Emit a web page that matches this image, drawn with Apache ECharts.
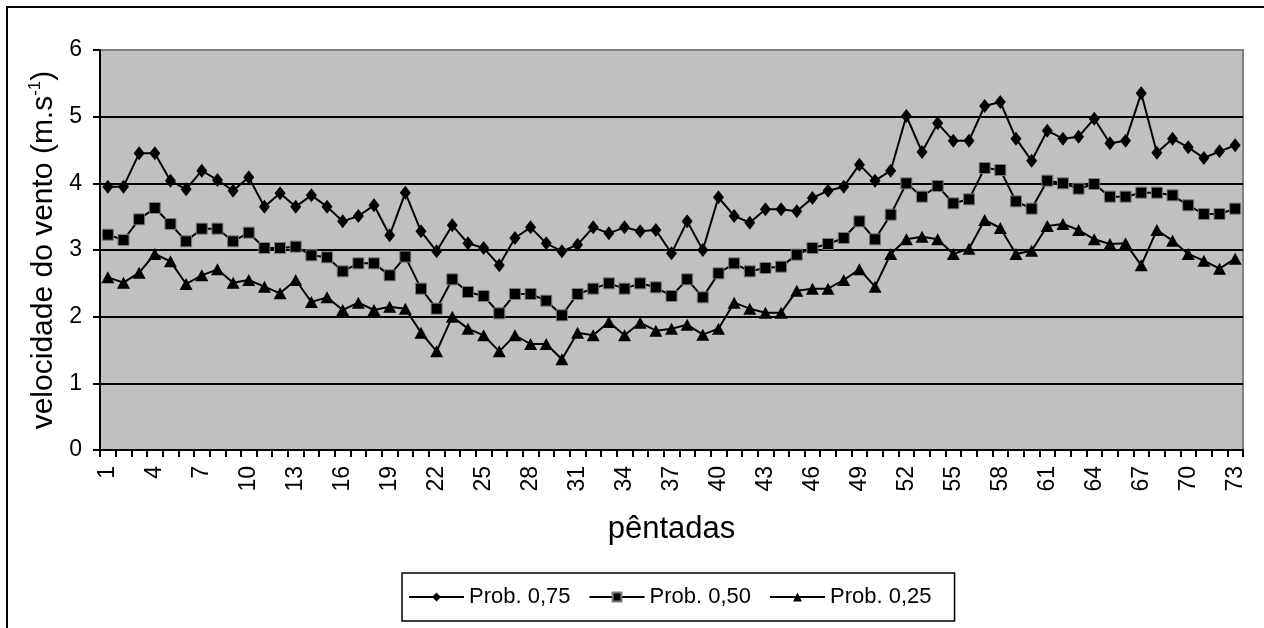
<!DOCTYPE html>
<html>
<head>
<meta charset="utf-8">
<script src="https://cdn.jsdelivr.net/npm/echarts@6/dist/echarts.min.js"></script>
<style>
html,body{margin:0;padding:0;background:#fff;}
#chart{width:1264px;height:628px;}
</style>
</head>
<body>
<div id="chart"></div>
<script>
const categories = [];
for (let i = 1; i <= 73; i++) categories.push(String(i));

const seriesNames = ['Prob. 0,75', 'Prob. 0,50', 'Prob. 0,25'];

const prob75 = [3.95,3.95,4.45,4.45,4.04,3.91,4.19,4.05,3.89,4.09,
  3.65,3.85,3.65,3.82,3.65,3.43,3.51,3.67,3.22,3.86,
  3.28,2.98,3.37,3.10,3.03,2.77,3.18,3.34,3.10,2.98,
  3.08,3.34,3.25,3.34,3.28,3.30,2.95,3.43,3.00,3.79,
  3.51,3.41,3.61,3.61,3.58,3.78,3.89,3.95,4.28,4.04,
  4.19,5.01,4.47,4.90,4.64,4.64,5.16,5.22,4.67,4.34,
  4.79,4.67,4.70,4.97,4.60,4.64,5.35,4.46,4.67,4.54,
  4.38,4.48,4.57];

const prob50 = [3.23,3.15,3.46,3.63,3.39,3.13,3.32,3.32,3.13,3.26,
  3.03,3.03,3.05,2.92,2.89,2.68,2.80,2.80,2.62,2.90,
  2.42,2.12,2.56,2.37,2.31,2.05,2.34,2.34,2.24,2.02,
  2.34,2.42,2.50,2.42,2.50,2.44,2.31,2.56,2.29,2.65,
  2.80,2.68,2.73,2.75,2.93,3.03,3.09,3.18,3.43,3.16,
  3.53,4.00,3.80,3.96,3.70,3.76,4.23,4.20,3.73,3.62,
  4.04,4.00,3.92,3.99,3.80,3.80,3.86,3.86,3.82,3.67,
  3.54,3.54,3.62];

const prob25 = [2.59,2.51,2.66,2.94,2.83,2.49,2.62,2.71,2.51,2.55,
  2.45,2.35,2.55,2.22,2.29,2.10,2.21,2.10,2.15,2.12,
  1.76,1.48,2.00,1.82,1.72,1.48,1.72,1.59,1.59,1.36,
  1.76,1.72,1.92,1.72,1.91,1.79,1.82,1.88,1.73,1.82,
  2.21,2.12,2.06,2.06,2.39,2.42,2.42,2.55,2.71,2.45,
  2.94,3.16,3.20,3.16,2.94,3.02,3.45,3.33,2.94,2.99,
  3.36,3.39,3.30,3.16,3.09,3.10,2.77,3.30,3.14,2.94,
  2.84,2.72,2.87];

const FONT = '"Liberation Sans", Arial, sans-serif';

const chart = echarts.init(document.getElementById('chart'), null, {renderer: 'canvas'});

function mkSeries(name, data, symbol, size, extraItem) {
  return {
    name: name,
    type: 'line',
    data: data,
    symbol: symbol,
    symbolSize: size,
    showAllSymbol: true,
    animation: false,
    lineStyle: {color: '#000', width: 2},
    itemStyle: Object.assign({color: '#000'}, extraItem || {}),
    emphasis: {disabled: true}
  };
}

chart.setOption({
  animation: false,
  backgroundColor: '#fff',
  textStyle: {fontFamily: FONT, color: '#000'},
  graphic: [
    {type: 'line', shape: {x1: 6, y1: 7, x2: 1264, y2: 7}, style: {stroke: '#000', lineWidth: 2}, silent: true},
    {type: 'line', shape: {x1: 7, y1: 6, x2: 7, y2: 628}, style: {stroke: '#000', lineWidth: 2}, silent: true}
  ],
  grid: {
    left: 100, right: 21, top: 50, bottom: 178,
    show: true,
    backgroundColor: '#c0c0c0',
    borderColor: '#808080',
    borderWidth: 2
  },
  legend: {
    data: seriesNames,
    left: 402, top: 573,
    orient: 'horizontal',
    padding: [13, 23, 13, 6],
    itemGap: 18,
    itemWidth: 55,
    itemHeight: 11,
    borderColor: '#000',
    borderWidth: 1.5,
    backgroundColor: '#fff',
    textStyle: {fontFamily: FONT, fontSize: 22, color: '#000'},
    selectedMode: false
  },
  xAxis: {
    type: 'category',
    data: categories,
    boundaryGap: true,
    name: 'pêntadas',
    nameLocation: 'middle',
    nameGap: 64,
    nameTextStyle: {fontFamily: FONT, fontSize: 31, color: '#000'},
    axisLine: {show: true, lineStyle: {color: '#000', width: 2}},
    axisTick: {show: true, interval: 0, length: 7, inside: false, lineStyle: {color: '#000', width: 2}},
    axisLabel: {interval: 2, rotate: 90, fontSize: 23, margin: 16, color: '#000', fontFamily: FONT},
    splitLine: {show: false}
  },
  yAxis: {
    type: 'value',
    min: 0, max: 6, interval: 1,
    name: '{n|velocidade do vento (m.s}{s|-1}{n|)}',
    nameLocation: 'middle',
    nameRotate: 90,
    nameGap: 40,
    nameTextStyle: {
      fontFamily: FONT, fontSize: 30, color: '#000',
      rich: {
        n: {fontFamily: FONT, fontSize: 30, color: '#000'},
        s: {fontFamily: FONT, fontSize: 17, color: '#000', padding: [0, 0, 16, 0]}
      }
    },
    axisLine: {show: true, lineStyle: {color: '#000', width: 2}},
    axisTick: {show: true, length: 7, inside: false, lineStyle: {color: '#000', width: 2}},
    axisLabel: {fontSize: 23, margin: 18, color: '#000', fontFamily: FONT},
    splitLine: {show: true, lineStyle: {color: ['#000', '#000', '#000', '#000', '#000', '#000', '#808080'], width: 2}}
  },
  series: [
    mkSeries(seriesNames[0], prob75, 'diamond', [11, 14]),
    mkSeries(seriesNames[1], prob50, 'rect', 11, {borderColor: '#7a7a7a', borderWidth: 1}),
    mkSeries(seriesNames[2], prob25, 'triangle', [13, 12])
  ]
});
</script>
</body>
</html>
